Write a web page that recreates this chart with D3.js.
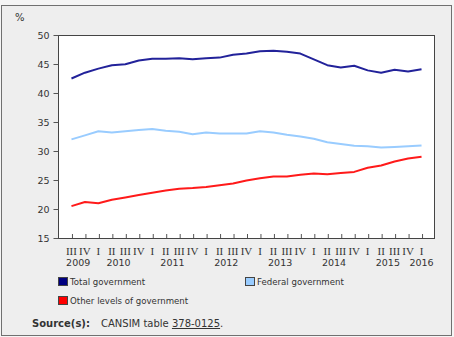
<!DOCTYPE html>
<html><head><meta charset="utf-8">
<script src="https://cdn.jsdelivr.net/npm/d3@7"></script>
<style>html,body{margin:0;padding:0;background:#f5f5f5;}svg{display:block;}</style>
</head><body><svg id="c" width="454" height="337"></svg>
<script>
const quarters = ["III","IV","I","II","III","IV","I","II","III","IV","I","II","III","IV","I","II","III","IV","I","II","III","IV","I","II","III","IV","I"];
const years = ["2009","2010","2011","2012","2013","2014","2015","2016"];
const totalGov = [42.5,43.5,44.2,44.8,44.95,45.6,45.9,45.9,46.0,45.8,46.0,46.1,46.6,46.8,47.2,47.3,47.1,46.8,45.8,44.8,44.4,44.7,43.9,43.5,44.0,43.7,44.1];
const federalGov = [32.0,32.7,33.4,33.2,33.4,33.6,33.8,33.5,33.3,32.9,33.2,33.0,33.0,33.0,33.4,33.2,32.8,32.5,32.1,31.5,31.2,30.9,30.8,30.6,30.7,30.8,30.95];
const otherGov = [20.5,21.2,21.0,21.6,22.0,22.4,22.8,23.2,23.5,23.6,23.8,24.1,24.4,24.9,25.3,25.6,25.6,25.9,26.1,26.0,26.2,26.4,27.1,27.5,28.2,28.7,29.0];
const yTicks = [15,20,25,30,35,40,45,50];
const seriesNames = ["Total government","Federal government","Other levels of government"];
const colors = ["#22229a","#99ccff","#ff1a1a"];
const legendColors = ["#000080","#99ccff","#ff0000"];

const svg = d3.select("#c");
const L=58,R=435,T=35,B=238;
svg.append("rect").attr("x",1.5).attr("y",5.5).attr("width",450).attr("height",330)
  .attr("fill","#eeeeee").attr("stroke","#707070");
svg.append("rect").attr("x",L+0.5).attr("y",T+0.5).attr("width",R-L-1).attr("height",B-T)
  .attr("fill","#fff").attr("stroke","#444");

const idx = d3.range(quarters.length);
const x = d3.scalePoint().domain(idx).range([L,R]).padding(1);
const y = d3.scaleLinear().domain([15,50]).range([B,T]);

const ya = svg.append("g").attr("transform",`translate(${L+0.5},0)`)
  .call(d3.axisLeft(y).tickValues(yTicks).tickSize(5).tickPadding(4));
ya.select(".domain").remove();
ya.selectAll("line").attr("stroke","#555");
ya.selectAll("text").attr("font-family","DejaVu Sans, Verdana, sans-serif").attr("font-size",9.5).attr("fill","#333");

const xa = svg.append("g").attr("transform",`translate(0,${B})`)
  .call(d3.axisTop(x).tickSize(4).tickFormat(""));
xa.select(".domain").remove();
xa.selectAll("line").attr("stroke","#555").attr("transform","translate(0.5,0)");

svg.append("g").selectAll("text").data(idx).join("text")
  .attr("x",i=>x(i)).attr("y",254.5).attr("text-anchor","middle")
  .attr("font-family","Liberation Serif, Times New Roman, serif").attr("font-size",11).attr("fill","#333")
  .text(i=>quarters[i]);

const yearPos = years.map((yr,k)=>{
  if(k===0) return (x(0)+x(1))/2;
  if(k===years.length-1) return x(quarters.length-1);
  const q1 = 2 + (k-1)*4;
  return (x(q1+1)+x(q1+2))/2;
});
svg.append("g").selectAll("text").data(years).join("text")
  .attr("x",(d,k)=>yearPos[k]).attr("y",266).attr("text-anchor","middle")
  .attr("font-family","DejaVu Sans, Verdana, sans-serif").attr("font-size",9.5).attr("fill","#333")
  .text(d=>d);

svg.append("text").attr("x",15).attr("y",21).attr("font-family","DejaVu Sans, Verdana, sans-serif")
  .attr("font-size",10).attr("fill","#333").text("%");

const line = d3.line().x((d,i)=>x(i)).y(d=>y(d));
[totalGov,federalGov,otherGov].forEach((s,k)=>{
  svg.append("path").datum(s).attr("d",line).attr("fill","none")
    .attr("stroke",colors[k]).attr("stroke-width",2).attr("stroke-linejoin","round");
});

const leg = [{x:58,y:277},{x:245,y:277},{x:58,y:296}];
seriesNames.forEach((n,k)=>{
  svg.append("rect").attr("x",leg[k].x+0.5).attr("y",leg[k].y+0.5).attr("width",9).attr("height",8)
    .attr("fill",legendColors[k]).attr("stroke","#444");
  svg.append("text").attr("x",leg[k].x+12).attr("y",leg[k].y+8)
    .attr("font-family","DejaVu Sans, Verdana, sans-serif").attr("font-size",8.6).attr("fill","#333").text(n);
});

const src = svg.append("text").attr("x",32).attr("y",327)
  .attr("font-family","DejaVu Sans, Verdana, sans-serif").attr("font-size",10).attr("fill","#333");
src.append("tspan").attr("font-weight","bold").text("Source(s):");
src.append("tspan").attr("x",101).text("CANSIM table ");
src.append("tspan").attr("text-decoration","underline").text("378-0125");
src.append("tspan").text(".");
</script></body></html>
